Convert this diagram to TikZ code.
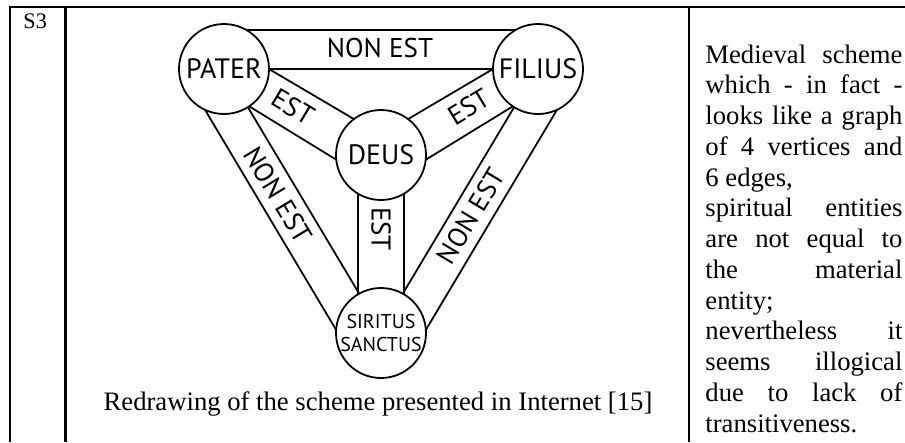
\documentclass[tikz,border=0pt]{standalone}
\usepackage{fontspec}
\setmainfont{Liberation Serif}
\newfontfamily\diagfont{PT Sans}
\newcommand\jline[1]{\makebox[\linewidth][s]{#1}}
\begin{document}
\begin{tikzpicture}[x=0.45pt,y=-0.45pt,
  rule/.style={line width=0.95pt},
  thinrule/.style={line width=0.55pt},
  vertex/.style={circle, draw, line width=0.8pt, minimum size=40.5pt, inner sep=0pt, outer sep=0pt,
     font=\diagfont\fontsize{12.6}{13}\selectfont},
  band/.style={line width=0.8pt},
  bandlabel/.style={font=\diagfont\fontsize{12.2}{13}\selectfont, inner sep=0pt},
]
\useasboundingbox (0,0) rectangle (905,442);
% table rules
\draw[rule] (10,442) -- (10,7) -- (162,7);
\draw[thinrule] (162,7) -- (593,7);
\draw[rule] (593,7) -- (905,7);
\draw[rule] (65.5,7) -- (65.5,442);
\draw[rule] (689,7) -- (689,442);
\node[anchor=base west, inner sep=0pt, font=\fontsize{10}{11}\selectfont] (s3) at (23,28) {S3};
% vertices
\node[vertex] (pater) at (224,69) {PATER};
\node[vertex] (filius) at (538,69) {FILIUS};
\node[vertex] (deus) at (381,155) {DEUS};
\node[vertex, align=center, font=\diagfont\fontsize{9}{10}\selectfont] (spirit) at (381,333) {SIRITUS\\SANCTUS};
% bands
\draw[band] (pater.60) -- (filius.120);
\draw[band] (pater.0) -- (filius.180);
\draw[band] (pater.0) -- (deus.127);
\draw[band] (pater.-56) -- (deus.186);
\draw[band] (deus.53) -- (filius.180);
\draw[band] (deus.-6) -- (filius.236);
\draw[band] (pater.245) -- (spirit.176);
\draw[band] (pater.-58) -- (spirit.119);
\draw[band] (filius.295) -- (spirit.4);
\draw[band] (filius.238) -- (spirit.61);
\draw[band] (deus.239) -- (spirit.121);
\draw[band] (deus.301) -- (spirit.59);
% band labels
\node[bandlabel] (l1) at (380,48) {NON EST};
\node[bandlabel, rotate=-31] (l2) at (293,107) {EST};
\node[bandlabel, rotate=31] (l3) at (469,107) {EST};
\node[bandlabel, rotate=-59] (l4) at (278,195) {NON EST};
\node[bandlabel, rotate=59] (l5) at (471,216) {NON EST};
\node[bandlabel, rotate=-90] (l6) at (381,229) {EST};
% caption
\node[anchor=base, inner sep=0pt, font=\fontsize{12}{14}\selectfont] (cap) at (378,410) {Redrawing of the scheme presented in Internet [15]};
% description
\node[anchor=base west, inner sep=0pt] (desc) at (705,63) {\parbox[t]{88.65pt}{\fontsize{12}{13.84}\selectfont
\jline{Medieval scheme}\\
\jline{which - in fact -}\\
\jline{looks like a graph}\\
\jline{of 4 vertices and}\\
6 edges,\\
\jline{spiritual entities}\\
\jline{are not equal to}\\
\jline{the material}\\
entity;\\
\jline{nevertheless it}\\
\jline{seems illogical}\\
\jline{due to lack of}\\
transitiveness.}};
\end{tikzpicture}
\end{document}
